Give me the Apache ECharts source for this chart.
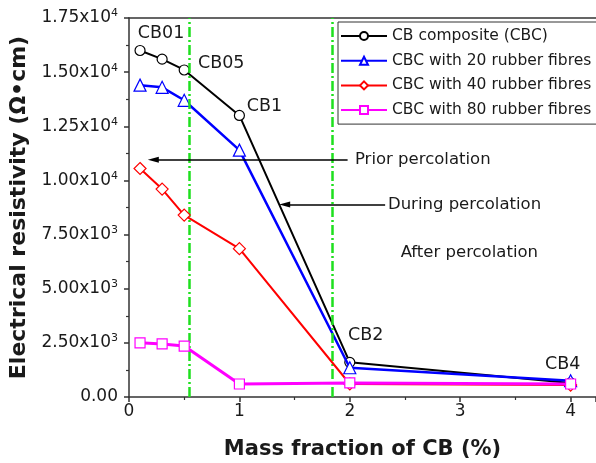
<!DOCTYPE html>
<html>
<head>
<meta charset="utf-8">
<script src="https://cdn.jsdelivr.net/npm/echarts@6/dist/echarts.min.js"></script>
<style>
  html, body { margin: 0; padding: 0; background: #fff; }
  #chart { width: 596px; height: 463px; }
</style>
</head>
<body>
<div id="chart"></div>
<script>
// Mass fraction of carbon black (%) for each sample
const massFraction = [0.1, 0.3, 0.5, 1, 2, 4];

// Electrical resistivity (ohm·cm) per mix
const cbComposite = [16000, 15600, 15100, 13000, 1600, 650];
const cbc20Fibres = [14400, 14300, 13700, 11400, 1350, 750];
const cbc40Fibres = [10550, 9600, 8400, 6850, 600, 550];
const cbc80Fibres = [2500, 2450, 2350, 600, 650, 600];

const seriesNames = [
  'CB composite (CBC)',
  'CBC with 20 rubber fibres',
  'CBC with 40 rubber fibres',
  'CBC with 80 rubber fibres'
];

// Sample names written next to the plain composite points
const sampleLabels = ['CB01', '', 'CB05', 'CB1', 'CB2', 'CB4'];

// Percolation threshold boundaries (% CB)
const percolationBounds = [0.55, 1.84];

// Axis ranges
const xTicks = [0, 1, 2, 3, 4];
const yMin = 0, yMax = 17500, yStep = 2500;
const xMax = 4.23;

// Arrow annotations (data units) and the texts beside them
const arrowSpans = [
  { from: [1.98, 10950], to: [0.22, 10950] },
  { from: [2.32, 8890], to: [1.41, 8890] }
];
const noteTexts = ['Prior percolation', 'During percolation', 'After percolation'];
const notePoints = [[2.046, 10950], [2.345, 8890], [2.46, 6640]];

const FONT = 'DejaVu Sans';
const TEXT = '#1a1a1a';

// offsets of sample labels from their points, in pixels
const sampleLabelOffsets = [[21, -17], [0, 0], [37, -7], [25, -9], [16, -27], [-8, -18]];

function pairs(ys) {
  return massFraction.map((x, i) => [x, ys[i]]);
}

function sciLabel(v) {
  if (v === 0) return '0.00';
  const exp = Math.floor(Math.log10(v));
  const mant = (v / Math.pow(10, exp)).toFixed(2);
  return mant + 'x10{s|' + exp + '}';
}

const chart = echarts.init(document.getElementById('chart'));

const lineSeries = [
  { name: seriesNames[0], data: cbComposite, color: '#000000', symbol: 'circle', size: 10, width: 2 },
  { name: seriesNames[1], data: cbc20Fibres, color: '#0000ff', symbol: 'triangle', size: 12, width: 2.5 },
  { name: seriesNames[2], data: cbc40Fibres, color: '#ff0000', symbol: 'diamond', size: 12, width: 2 },
  { name: seriesNames[3], data: cbc80Fibres, color: '#ff00ff', symbol: 'rect', size: 10, width: 3 }
].map((s, si) => ({
  name: s.name,
  type: 'line',
  symbol: s.symbol,
  symbolSize: s.size,
  showAllSymbol: true,
  lineStyle: { color: s.color, width: s.width },
  itemStyle: { color: '#ffffff', borderColor: s.color, borderWidth: 1.2 },
  emphasis: { disabled: true },
  z: 3 + si,
  data: pairs(s.data).map((p, i) => {
    const item = { value: p };
    if (si === 0 && sampleLabels[i]) {
      item.label = {
        show: true,
        position: 'inside',
        offset: sampleLabelOffsets[i],
        formatter: sampleLabels[i],
        fontFamily: FONT,
        fontSize: 17.5,
        color: TEXT
      };
    }
    return item;
  })
}));

// Vertical dash-dot boundaries for the percolation zones
const boundarySeries = {
  name: 'bounds',
  type: 'line',
  data: [],
  silent: true,
  z: 2,
  markLine: {
    silent: true,
    symbol: ['none', 'none'],
    label: { show: false },
    lineStyle: { color: '#1ee01e', width: 2.5, type: [10, 3, 2, 3] },
    data: percolationBounds.map(x => ({ xAxis: x }))
  }
};

// Annotation texts with their arrows
const noteSeries = {
  name: 'notes',
  type: 'scatter',
  silent: true,
  symbolSize: 0.1,
  itemStyle: { color: 'rgba(0,0,0,0)', opacity: 1 },
  z: 10,
  label: {
    show: true,
    position: 'right',
    distance: 0,
    formatter: p => p.name,
    fontFamily: FONT,
    fontSize: 16.5,
    color: TEXT
  },
  data: notePoints.map((p, i) => ({ value: p, name: noteTexts[i] })),
  markLine: {
    silent: true,
    animation: false,
    label: { show: false },
    lineStyle: { color: '#000000', width: 1.5, type: 'solid', opacity: 1 },
    data: arrowSpans.map(a => [
      { coord: a.from, symbol: 'none' },
      { coord: a.to, symbol: 'triangle', symbolSize: [6, 11] }
    ])
  }
};

chart.setOption({
  animation: false,
  backgroundColor: '#ffffff',
  textStyle: { fontFamily: FONT },
  grid: { left: 129, top: 18, right: 0, bottom: 66, containLabel: false, outerBoundsMode: 'none' },
  legend: {
    data: seriesNames,
    orient: 'vertical',
    left: 338,
    top: 22,
    itemWidth: 46,
    itemHeight: 10,
    itemGap: 8.7,
    padding: [6, 40, 6, 2],
    borderColor: '#333333',
    borderWidth: 1,
    backgroundColor: '#ffffff',
    textStyle: { fontFamily: FONT, fontSize: 15.5, color: TEXT },
    selectedMode: false
  },
  xAxis: [{
    type: 'value',
    min: 0,
    max: xMax,
    interval: 1,
    name: 'Mass fraction of CB (%)',
    nameLocation: 'middle',
    nameGap: 42,
    nameTextStyle: { fontFamily: FONT, fontSize: 21, fontWeight: 'bold', color: TEXT },
    axisLine: { show: true, lineStyle: { color: '#333333', width: 1.5 } },
    axisTick: { show: true, length: 5, lineStyle: { color: '#333333', width: 1.5 } },
    minorTick: { show: true, splitNumber: 2, length: 3, lineStyle: { color: '#333333', width: 1.2 } },
    splitLine: { show: false },
    axisLabel: {
      margin: 6,
      fontFamily: FONT,
      fontSize: 17,
      color: TEXT,
      formatter: v => (xTicks.indexOf(v) >= 0 ? String(v) : '')
    }
  }, {
    type: 'value',
    position: 'top',
    min: 0,
    max: xMax,
    axisLine: { show: true, lineStyle: { color: '#333333', width: 1.5 } },
    axisTick: { show: false },
    axisLabel: { show: false },
    splitLine: { show: false }
  }],
  yAxis: {
    type: 'value',
    min: yMin,
    max: yMax,
    interval: yStep,
    name: 'Electrical resistivity (Ω•cm)',
    nameLocation: 'middle',
    nameGap: 98,
    nameTextStyle: { fontFamily: FONT, fontSize: 22, fontWeight: 'bold', color: TEXT },
    axisLine: { show: true, lineStyle: { color: '#333333', width: 1.5 } },
    axisTick: { show: true, length: 5, lineStyle: { color: '#333333', width: 1.5 } },
    minorTick: { show: true, splitNumber: 2, length: 3, lineStyle: { color: '#333333', width: 1.2 } },
    splitLine: { show: false },
    axisLabel: {
      margin: 11,
      fontFamily: FONT,
      fontSize: 17,
      color: TEXT,
      formatter: sciLabel,
      rich: {
        s: { fontFamily: FONT, fontSize: 11, color: TEXT, padding: [0, 0, 9, 0] }
      }
    }
  },
  series: [boundarySeries].concat(lineSeries, [noteSeries])
});
</script>
</body>
</html>
